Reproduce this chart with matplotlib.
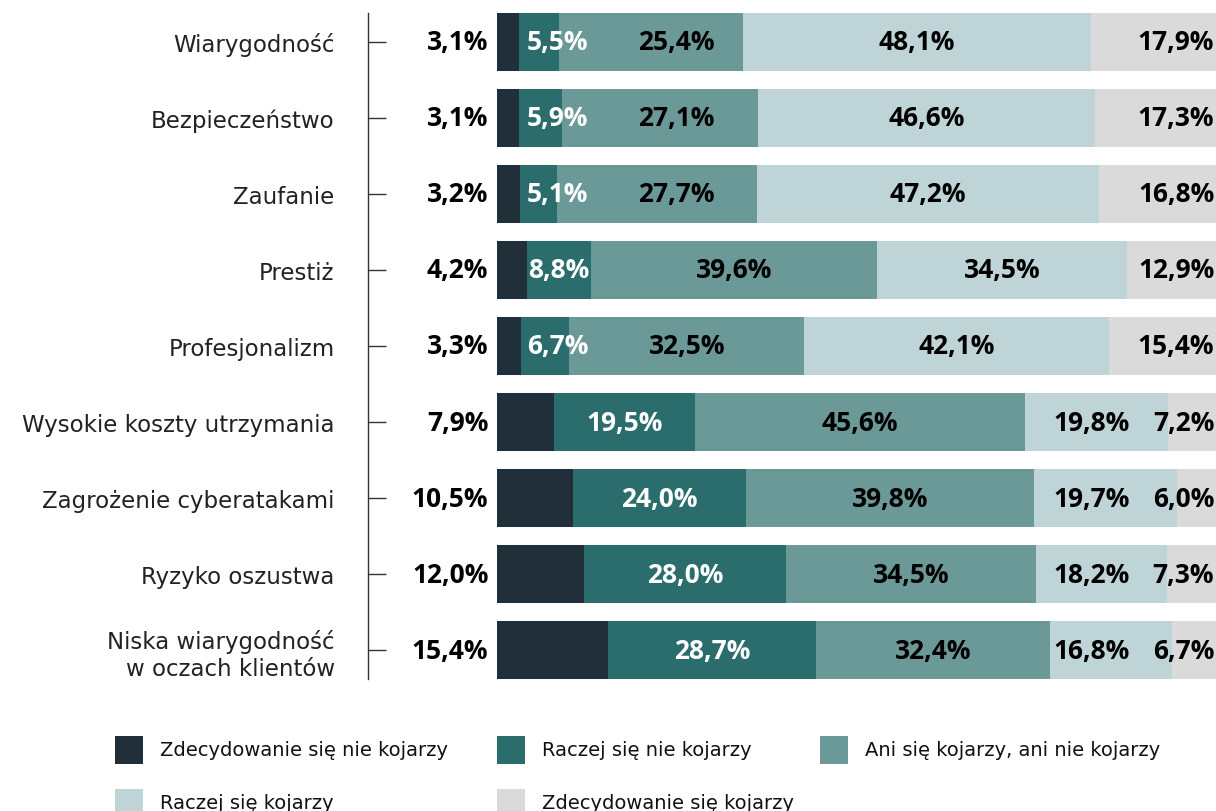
import matplotlib
matplotlib.use('Agg')
import matplotlib.pyplot as plt
from matplotlib.patches import Rectangle
from matplotlib import font_manager

categories = ['Wiarygodność', 'Bezpieczeństwo', 'Zaufanie', 'Prestiż', 'Profesjonalizm',
              'Wysokie koszty utrzymania', 'Zagrożenie cyberatakami', 'Ryzyko oszustwa',
              'Niska wiarygodność\nw oczach klientów']
zdec_nie = [3.1, 3.1, 3.2, 4.2, 3.3, 7.9, 10.5, 12.0, 15.4]
raczej_nie = [5.5, 5.9, 5.1, 8.8, 6.7, 19.5, 24.0, 28.0, 28.7]
ani = [25.4, 27.1, 27.7, 39.6, 32.5, 45.6, 39.8, 34.5, 32.4]
raczej_tak = [48.1, 46.6, 47.2, 34.5, 42.1, 19.8, 19.7, 18.2, 16.8]
zdec_tak = [17.9, 17.3, 16.8, 12.9, 15.4, 7.2, 6.0, 7.3, 6.7]
series = [zdec_nie, raczej_nie, ani, raczej_tak, zdec_tak]
legend_labels = ['Zdecydowanie się nie kojarzy', 'Raczej się nie kojarzy',
                 'Ani się kojarzy, ani nie kojarzy', 'Raczej się kojarzy',
                 'Zdecydowanie się kojarzy']
colors = ['#212f3a', '#2a6d6c', '#6b9998', '#bfd4d6', '#dadada']

names = {f.name for f in font_manager.fontManager.ttflist}
val_font = 'Open Sans'
cat_font = 'DejaVu Sans'
leg_font = 'Liberation Sans Narrow' if 'Liberation Sans Narrow' in names else 'DejaVu Sans'
vsize = 19

W, H = 1216, 812
fig = plt.figure(figsize=(W / 100, H / 100), dpi=100)

# axes: left spine at 368px, 0% at 497px, 100% at ~1220px
px_per = 7.23
x0 = -(497 - 368) / px_per
ax = fig.add_axes([368 / W, (H - 680) / H, (1220 - 368) / W, (680 - 14) / H])

fmt = lambda v: ('%.1f%%' % v).replace('.', ',')
n = len(categories)
y = list(range(n))
left = [0.0] * n
for s, col in zip(series, colors):
    ax.barh(y, s, left=left, height=0.76, color=col, linewidth=0)
    left = [l + v for l, v in zip(left, s)]

def lab(x, i, v, ha='center', color='black'):
    ax.text(x, i, fmt(v), ha=ha, va='center', fontsize=vsize, fontweight='bold',
            family=val_font, color=color)

for i in range(n):
    # first value outside the bar, on the left
    lab(-1.2, i, zdec_nie[i], ha='right')
    start1 = zdec_nie[i]
    c2 = max(start1 + raczej_nie[i] / 2, 8.4)
    lab(c2, i, raczej_nie[i], color='white')
    start2 = start1 + raczej_nie[i]
    c3 = max(start2 + ani[i] / 2, c2 + 16.4)
    lab(c3, i, ani[i])
    start3 = start2 + ani[i]
    c4 = min(start3 + raczej_tak[i] / 2, 82.2)
    lab(c4, i, raczej_tak[i])
    lab(99.2, i, zdec_tak[i], ha='right')

ax.set_xlim(x0, 100)
ax.set_ylim(n - 1 + 0.38, -0.38)
ax.set_yticks(y)
ax.set_yticklabels(categories, fontsize=16.5, family=cat_font, color='#222222',
                   linespacing=1.2)
ax.tick_params(axis='y', direction='in', length=13, width=1, color='#333333', pad=24)
ax.set_xticks([])
for sp in ['top', 'right', 'bottom']:
    ax.spines[sp].set_visible(False)
ax.spines['left'].set_color('#333333')
ax.spines['left'].set_linewidth(1)

# legend drawn by hand
leg_pos = [(115, 751), (497, 751), (820, 751), (115, 804), (497, 804)]
for (lx, ly), col, txt in zip(leg_pos, colors, legend_labels):
    fig.add_artist(Rectangle((lx / W, (H - ly - 14) / H), 28 / W, 28 / H,
                             transform=fig.transFigure, color=col, lw=0))
    fig.text((lx + 45) / W, (H - ly) / H, txt, ha='left', va='center',
             fontsize=14, family=leg_font, color='#111111')

fig.savefig('out.png', dpi=100)
